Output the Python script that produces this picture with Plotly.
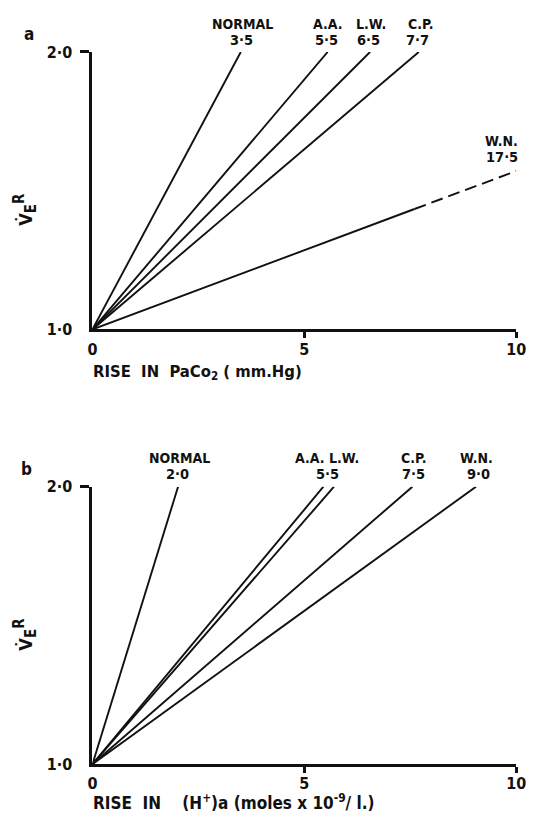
import plotly.graph_objects as go

# ---------------- data ----------------
# Panel a: rise in PaCO2 (mm Hg) needed to double ventilation
names_a = ["NORMAL", "A.A.", "L.W.", "C.P.", "W.N."]
values_a = ["3·5", "5·5", "6·5", "7·7", "17·5"]
ends_a = [3.5, 5.55, 6.55, 7.7]          # x where each line reaches V'E R = 2.0
wn_solid_x = [0.0, 7.6]
wn_solid_y = [1.0, 1.434]
wn_dash_x = [7.6, 10.0]
wn_dash_y = [1.434, 1.571]

# Panel b: rise in [H+]a (nmol/l) needed to double ventilation
names_b = ["NORMAL", "A.A. L.W.", "C.P.", "W.N."]
values_b = ["2·0", "5·5", "7·5", "9·0"]
ends_b = [2.02, 5.45, 5.7, 7.55, 9.05]   # NORMAL, A.A., L.W., C.P., W.N.

x_ticks = [0, 5, 10]
x_ticktext = ["0", "5", "10"]
y_ticks = [1, 2]
y_ticktext = ["1·0", "2·0"]

# ---------------- layout helpers ----------------
W, H = 534, 822
def px(x):
    return x / W
def py(y):
    return 1 - y / H

FONT = "DejaVu Sans Condensed, DejaVu Sans, sans-serif"
INK = "#111111"

fig = go.Figure()

# panel a lines
for xe in ends_a:
    fig.add_trace(go.Scatter(x=[0, xe], y=[1, 2], mode="lines",
                             line=dict(color=INK, width=1.9),
                             xaxis="x", yaxis="y", showlegend=False, hoverinfo="skip"))
fig.add_trace(go.Scatter(x=wn_solid_x, y=wn_solid_y, mode="lines",
                         line=dict(color=INK, width=1.9),
                         xaxis="x", yaxis="y", showlegend=False, hoverinfo="skip"))
fig.add_trace(go.Scatter(x=wn_dash_x, y=wn_dash_y, mode="lines",
                         line=dict(color=INK, width=1.9, dash="12px,6px"),
                         xaxis="x", yaxis="y", showlegend=False, hoverinfo="skip"))

# panel b lines
for xe in ends_b:
    fig.add_trace(go.Scatter(x=[0, xe], y=[1, 2], mode="lines",
                             line=dict(color=INK, width=1.9),
                             xaxis="x2", yaxis="y2", showlegend=False, hoverinfo="skip"))

xdom = [px(90), px(526)]
axis_common = dict(
    showgrid=False, zeroline=False, showline=True, linecolor=INK, linewidth=3,
    ticks="", tickfont=dict(family=FONT, size=16, color=INK, weight="bold"),
    fixedrange=True, ticklabeloverflow="allow",
)
xa = dict(axis_common, range=[0, 10], domain=xdom, tickmode="array",
          tickvals=x_ticks, ticktext=x_ticktext, ticklabelstandoff=3,
          minor=dict(tickmode="array", tickvals=[5, 10], ticks="outside",
                     ticklen=6, tickwidth=2.5, tickcolor=INK, showgrid=False))
ya = dict(axis_common, range=[1, 2], tickmode="array",
          tickvals=y_ticks, ticktext=y_ticktext, ticklabelstandoff=14,
          minor=dict(tickmode="array", tickvals=[2], ticks="outside",
                     ticklen=9, tickwidth=2.5, tickcolor=INK, showgrid=False))

fig.update_layout(
    width=W, height=H,
    margin=dict(l=0, r=0, t=0, b=0),
    paper_bgcolor="white", plot_bgcolor="white",
    xaxis=dict(xa, anchor="y"),
    yaxis=dict(ya, domain=[py(328), py(44)], anchor="x"),
    xaxis2=dict(xa, anchor="y2"),
    yaxis2=dict(ya, domain=[py(773), py(489)], anchor="x2"),
)

ann = []
def txt(x, y, s, size=14, xanchor="center", angle=0):
    ann.append(dict(x=px(x), y=py(y), xref="paper", yref="paper", text=s,
                    showarrow=False, xanchor=xanchor, yanchor="middle",
                    textangle=angle, borderpad=0,
                    font=dict(family=FONT, size=size, color=INK, weight="bold")))

# panel letters
txt(25, 26, "a", size=17)
txt(22, 471, "b", size=17)

# panel a line labels
pos_a_name = [(244, 15.5), (332, 15.5), (377, 15.5), (427, 15.5), (511, 135)]
pos_a_val = [(243, 32), (331, 32), (374, 32), (424, 32), (511, 151.5)]
for n, v, pn, pv in zip(names_a, values_a, pos_a_name, pos_a_val):
    txt(pn[0], pn[1], n)
    txt(pv[0], pv[1], v, size=14.5)

# panel b line labels
pos_b_name = [(180, 460), (331, 460), (420, 460), (485, 460)]
pos_b_val = [(177, 476.5), (332, 476.5), (420, 476.5), (487, 476.5)]
for n, v, pn, pv in zip(names_b, values_b, pos_b_name, pos_b_val):
    txt(pn[0], pn[1], n)
    txt(pv[0], pv[1], v, size=14.5)

# axis titles
nb = "\u00a0"
txt(89, 372, f"RISE{nb}{nb}IN{nb}{nb}PaCo<sub>2</sub>{nb}({nb}mm.Hg)", size=16.5, xanchor="left")
txt(89, 812, f"RISE{nb}{nb}IN{nb}{nb}{nb}{nb}(H<sup>+</sup>)a{nb}(moles{nb}x{nb}10<sup>-9</sup>/{nb}l.)",
    size=17, xanchor="left")
ytitle = ("V\u0307<sub><span style='font-size:15px'>E</span></sub>"
          "<sup><span style='font-size:15px'>R</span></sup>")
txt(20, 205, ytitle, size=18, angle=-90)
txt(20, 640, ytitle, size=18, angle=-90)

fig.update_layout(annotations=ann)
fig.write_html(
    "out.html",
    config={"displayModeBar": False},
    post_script="document.body.style.margin='0';document.body.style.overflow='hidden';",
)
